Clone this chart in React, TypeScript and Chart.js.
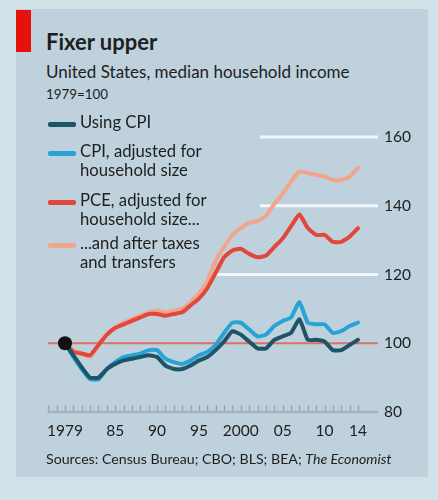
import React, { useEffect, useRef } from "react";
import { Chart, registerables } from "chart.js";

Chart.register(...registerables);

const years = [1979, 1980, 1981, 1982, 1983, 1984, 1985, 1986, 1987, 1988, 1989, 1990, 1991, 1992, 1993, 1994, 1995, 1996, 1997, 1998, 1999, 2000, 2001, 2002, 2003, 2004, 2005, 2006, 2007, 2008, 2009, 2010, 2011, 2012, 2013, 2014];

const usingCpi = [100, 96.5, 93, 90, 90, 92.5, 94, 95, 95.5, 96, 96.5, 96, 93.5, 92.5, 92.5, 93.5, 95, 96, 98, 100.5, 103.5, 102.5, 100.5, 98.5, 98.5, 101, 102, 103, 107, 101, 101, 100.5, 98, 98, 99.5, 101];
const cpiAdjusted = [100, 96, 92.5, 89.5, 89.5, 92.5, 94.5, 96, 96.5, 97, 98, 98, 95.5, 94.5, 94, 95, 96.5, 97.5, 99.5, 103, 106, 106, 104, 102, 102.5, 105, 106.5, 107.5, 112, 106, 105.5, 105.5, 103, 103.5, 105, 106];
const pceAdjusted = [100, 97.5, 97, 96.5, 99.5, 102.5, 104.5, 105.5, 106.5, 107.5, 108.5, 108.5, 108, 108.5, 109, 111, 113, 116, 120.5, 125, 127, 127.5, 126, 125, 125.5, 128, 130.5, 134, 137.5, 133.5, 131.5, 131.5, 129.5, 129.5, 131, 133.5];
const afterTaxes = [100, 98, 97, 96, 99.5, 102.5, 104.5, 106, 107, 108, 109, 109.5, 109, 109.5, 110, 112, 114.5, 118, 124, 128, 131.5, 133.5, 135, 135.5, 137, 140.5, 143.5, 147, 150, 149.5, 149, 148.5, 147.5, 147.5, 148.5, 151];

const baseYear = 1979;
const baseValue = 100;

const xTickYears = [1979, 1985, 1990, 1995, 2000, 2005, 2010, 2014];
const xTickLabels = ["1979", "85", "90", "95", "2000", "05", "10", "14"];
const yTicks = [80, 100, 120, 140, 160];

const seriesNames = [
  ["Using CPI"],
  ["CPI, adjusted for", "household size"],
  ["PCE, adjusted for", "household size..."],
  ["...and after taxes", "and transfers"],
];
const seriesColors = ["#1d5468", "#27a3d6", "#e2473b", "#f2a48c"];

const FONT = "Lato, 'Noto Sans', sans-serif";

const decorPlugin = {
  id: "decor",
  beforeDatasetsDraw(chart: any) {
    const { ctx, chartArea, scales } = chart;
    const xs = scales.x;
    const ys = scales.y;
    ctx.save();
    const starts: Record<number, number> = { 120: 1996.5, 140: 2002.3, 160: 2002.3 };
    ctx.strokeStyle = "#f1f7fa";
    ctx.lineWidth = 3;
    [120, 140, 160].forEach((v) => {
      const y = ys.getPixelForValue(v);
      ctx.beginPath();
      ctx.moveTo(xs.getPixelForValue(starts[v]), y);
      ctx.lineTo(chartArea.right, y);
      ctx.stroke();
    });
    const y100 = ys.getPixelForValue(100);
    ctx.strokeStyle = "#d9706a";
    ctx.lineWidth = 2;
    ctx.beginPath();
    ctx.moveTo(chartArea.left, y100);
    ctx.lineTo(chartArea.right, y100);
    ctx.stroke();
    const y80 = ys.getPixelForValue(80);
    ctx.strokeStyle = "#a3b4be";
    ctx.lineWidth = 2.5;
    ctx.beginPath();
    ctx.moveTo(chartArea.left, y80);
    ctx.lineTo(chartArea.right, y80);
    ctx.stroke();
    ctx.strokeStyle = "#9aabb5";
    ctx.lineWidth = 1.5;
    for (let yr = 1977; yr <= 2014; yr++) {
      const x = Math.round(xs.getPixelForValue(yr)) + 0.5;
      ctx.beginPath();
      ctx.moveTo(x, y80);
      ctx.lineTo(x, y80 - 7);
      ctx.stroke();
    }
    ctx.restore();
  },
};

function toPoints(vals: number[]) {
  return years.map((yr, i) => ({ x: yr, y: vals[i] }));
}

function ChartCanvas() {
  const ref = useRef<HTMLCanvasElement>(null);
  useEffect(() => {
    if (!ref.current) return;
    const lineDs = (label: string, vals: number[], color: string) => ({
      label,
      data: toPoints(vals),
      borderColor: color,
      backgroundColor: color,
      borderWidth: 4,
      pointRadius: 0,
      tension: 0.15,
      borderJoinStyle: "round" as const,
      borderCapStyle: "round" as const,
    });
    const chart = new Chart(ref.current, {
      type: "line",
      data: {
        datasets: [
          {
            label: "base",
            data: [{ x: baseYear, y: baseValue }],
            showLine: false,
            pointRadius: 7,
            pointHoverRadius: 7,
            pointBackgroundColor: "#111111",
            pointBorderWidth: 0,
            borderColor: "#111111",
          } as any,
          lineDs(seriesNames[0].join(" "), usingCpi, seriesColors[0]),
          lineDs(seriesNames[1].join(" "), cpiAdjusted, seriesColors[1]),
          lineDs(seriesNames[2].join(" "), pceAdjusted, seriesColors[2]),
          lineDs(seriesNames[3].join(" "), afterTaxes, seriesColors[3]),
        ],
      },
      options: {
        animation: false,
        responsive: false,
        devicePixelRatio: 1,
        layout: { padding: { left: 48, right: 0, top: 137, bottom: 48 } },
        plugins: { legend: { display: false }, tooltip: { enabled: false } },
        events: [],
        scales: {
          x: {
            type: "linear",
            min: 1976.97,
            max: 2016.39,
            grid: { display: false, drawTicks: false },
            border: { display: false },
            afterBuildTicks: (s: any) => {
              s.ticks = xTickYears.map((v) => ({ value: v }));
            },
            afterFit: (s: any) => {
              s.height = 40;
            },
            ticks: {
              autoSkip: false,
              maxRotation: 0,
              padding: 10,
              color: "#1e1e1e",
              font: { family: FONT, size: 15.5 },
              callback: (v: any) => {
                const i = xTickYears.indexOf(Number(v));
                return i >= 0 ? xTickLabels[i] : "";
              },
            },
          },
          y: {
            position: "right",
            min: 80,
            max: 160,
            grid: { display: false, drawTicks: false },
            border: { display: false },
            afterBuildTicks: (s: any) => {
              s.ticks = yTicks.map((v) => ({ value: v }));
            },
            afterFit: (s: any) => {
              s.width = 60;
            },
            ticks: {
              padding: 6,
              color: "#1e1e1e",
              font: { family: FONT, size: 15.5 },
            },
          },
        },
      },
      plugins: [decorPlugin],
    } as any);
    return () => chart.destroy();
  }, []);
  return <canvas ref={ref} width={438} height={500} style={{ position: "absolute", left: 0, top: 0, width: 438, height: 500 }} />;
}

export default function App() {
  const legendTops = [113, 142, 191, 234];
  return (
    <div style={{ position: "fixed", left: 0, top: 0, width: 438, height: 500, background: "#d3e1e9", overflow: "hidden", fontFamily: FONT, color: "#1e1e1e" }}>
      <div style={{ position: "absolute", left: 16, top: 9, width: 412, height: 468, background: "#bed1dc" }} />
      <div style={{ position: "absolute", left: 16, top: 10, width: 15, height: 42, background: "#e3120b" }} />
      <div style={{ position: "absolute", left: 46, top: 28, fontSize: 22, fontWeight: 700, lineHeight: "28px", whiteSpace: "nowrap" }}>Fixer upper</div>
      <div style={{ position: "absolute", left: 46, top: 61, fontSize: 17, lineHeight: "21px", whiteSpace: "nowrap" }}>United States, median household income</div>
      <div style={{ position: "absolute", left: 46, top: 86, fontSize: 13.4, lineHeight: "17px", whiteSpace: "nowrap" }}>1979=100</div>
      <ChartCanvas />
      {seriesNames.map((lines, i) => (
        <div key={i} style={{ position: "absolute", left: 48, top: legendTops[i], whiteSpace: "nowrap" }}>
          <div style={{ position: "absolute", left: 0, top: 9, width: 28, height: 4.5, borderRadius: 2, background: seriesColors[i] }} />
          <div style={{ position: "absolute", left: 32, top: 0, fontSize: 16.7, lineHeight: "18.5px" }}>
            {lines.map((l, j) => (
              <div key={j}>{l}</div>
            ))}
          </div>
        </div>
      ))}
      <div style={{ position: "absolute", left: 46, top: 450, fontSize: 14.2, lineHeight: "18px", whiteSpace: "nowrap" }}>
        Sources: Census Bureau; CBO; BLS; BEA; <i>The Economist</i>
      </div>
    </div>
  );
}
